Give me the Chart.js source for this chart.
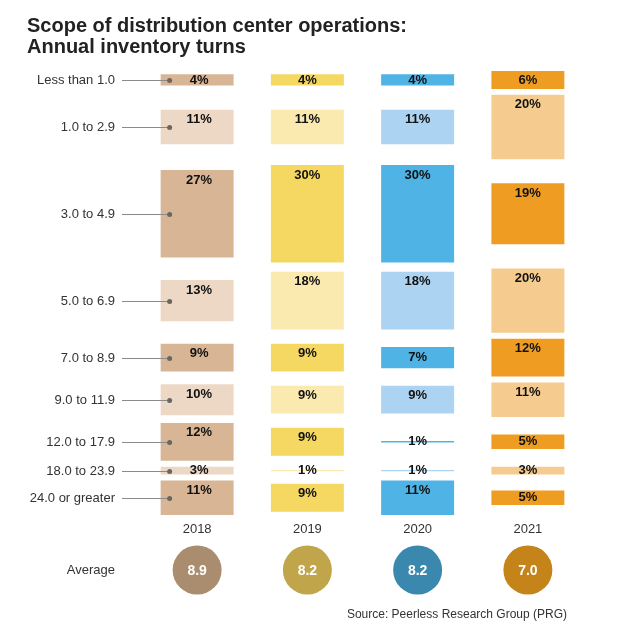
<!DOCTYPE html>
<html>
<head>
<meta charset="utf-8">
<script src="https://cdn.jsdelivr.net/npm/chart.js@4.4.1/dist/chart.umd.min.js"></script>
<style>
  html, body { margin: 0; padding: 0; background: #fff; }
  #wrap { width: 628px; height: 637px; position: relative; }
</style>
</head>
<body>
<div id="wrap"><canvas id="myChart"></canvas></div>
<script>
// data
const years = ['2018', '2019', '2020', '2021'];
const ranges = ['Less than 1.0', '1.0 to 2.9', '3.0 to 4.9', '5.0 to 6.9', '7.0 to 8.9',
  '9.0 to 11.9', '12.0 to 17.9', '18.0 to 23.9', '24.0 or greater'];
const share2018 = [4, 11, 27, 13, 9, 10, 12, 3, 11];
const share2019 = [4, 11, 30, 18, 9, 9, 9, 1, 9];
const share2020 = [4, 11, 30, 18, 7, 9, 1, 1, 11];
const share2021 = [6, 20, 19, 20, 12, 11, 5, 3, 5];
const averages = [8.9, 8.2, 8.2, 7.0];

// colours per year: dark / light rows, circle
const darkCol = ['#d8b595', '#f5d862', '#4fb3e5', '#ef9c22'];
const lightCol = ['#edd8c5', '#fbeab0', '#acd4f2', '#f6cb8f'];
const avgCol = ['#aa8c6e', '#c0a54b', '#3b88ae', '#c4841a'];

const GAP = 1.2; // space between rows, in % units
const allShares = [share2018, share2019, share2020, share2021];

// each row gets a slot as tall as its biggest value, bars sit centred in it
let rowCentres = [];
let pos = 0;
ranges.forEach(function (r, i) {
  let m = Math.max.apply(null, allShares.map(s => s[i]));
  rowCentres.push(pos + m / 2);
  pos += m + GAP;
});
const total = pos - GAP;

let datasets = ranges.map(function (r, i) {
  let c = rowCentres[i];
  return {
    label: r,
    data: allShares.map(s => [c - s[i] / 2, c + s[i] / 2]),
    backgroundColor: i % 2 === 0 ? darkCol : lightCol,
    borderColor: 'rgba(255,255,255,0.35)',
    borderWidth: 1,
    borderSkipped: false,
    grouped: false,
    barPercentage: 0.68,
    categoryPercentage: 1
  };
});

const FONT = '"Liberation Sans", Arial, Helvetica, sans-serif';

const extras = {
  id: 'extras',
  afterDraw: function (chart) {
    let ctx = chart.ctx;
    let xs = chart.scales.x;
    ctx.save();

    // title
    ctx.fillStyle = '#222';
    ctx.font = 'bold 20px ' + FONT;
    ctx.textAlign = 'left';
    ctx.textBaseline = 'alphabetic';
    ctx.fillText('Scope of distribution center operations:', 27, 32);
    ctx.fillText('Annual inventory turns', 27, 53);

    // value labels
    ctx.font = 'bold 13px ' + FONT;
    ctx.textAlign = 'center';
    ctx.textBaseline = 'middle';
    ctx.fillStyle = '#111';
    chart.data.datasets.forEach(function (ds, di) {
      chart.getDatasetMeta(di).data.forEach(function (bar, j) {
        let p = bar.getProps(['x', 'y', 'base'], true);
        let top = Math.min(p.y, p.base);
        let mid = (p.y + p.base) / 2;
        let v = allShares[j][di];
        ctx.fillText(v + '%', p.x + (j === 0 ? 2 : 0), Math.min(top + 11, mid));
      });
    });

    // row labels with leader lines to the 2018 bars
    let first = chart.getDatasetMeta(0).data[0].getProps(['x', 'width'], true);
    let dotX = first.x - first.width / 2 + 10;
    ctx.font = '13px ' + FONT;
    ctx.textAlign = 'right';
    chart.data.datasets.forEach(function (ds, di) {
      let p = chart.getDatasetMeta(di).data[0].getProps(['y', 'base'], true);
      let y = Math.round((p.y + p.base) / 2) + 0.5;
      ctx.fillStyle = '#333';
      ctx.fillText(ds.label, 115, y);
      ctx.strokeStyle = '#8a8a8a';
      ctx.lineWidth = 1;
      ctx.beginPath();
      ctx.moveTo(122, y);
      ctx.lineTo(dotX, y);
      ctx.stroke();
      ctx.fillStyle = '#6b6660';
      ctx.beginPath();
      ctx.arc(dotX, y, 2.5, 0, Math.PI * 2);
      ctx.fill();
    });

    // years
    ctx.textAlign = 'center';
    ctx.fillStyle = '#333';
    years.forEach(function (yr, i) {
      ctx.fillText(yr, xs.getPixelForValue(i), 529);
    });

    // averages
    ctx.textAlign = 'right';
    ctx.fillText('Average', 115, 570);
    ctx.textAlign = 'center';
    averages.forEach(function (a, i) {
      let x = xs.getPixelForValue(i);
      ctx.fillStyle = avgCol[i];
      ctx.beginPath();
      ctx.arc(x, 570, 24.5, 0, Math.PI * 2);
      ctx.fill();
      ctx.fillStyle = '#fff';
      ctx.font = 'bold 14px ' + FONT;
      ctx.fillText(a.toFixed(1), x, 571);
    });

    // source
    ctx.font = '12px ' + FONT;
    ctx.textAlign = 'right';
    ctx.fillStyle = '#333';
    ctx.fillText('Source: Peerless Research Group (PRG)', 567, 615);

    ctx.restore();
  }
};

let ctx = document.getElementById('myChart').getContext('2d');
let chart = new Chart(ctx, {
  type: 'bar',
  data: { labels: years, datasets: datasets },
  options: {
    responsive: true,
    maintainAspectRatio: false,
    animation: false,
    layout: { padding: { left: 142, right: 45, top: 70, bottom: 121 } },
    plugins: { legend: { display: false }, tooltip: { enabled: false } },
    scales: {
      x: { display: false },
      y: { display: false, reverse: true, min: 0, max: total }
    }
  },
  plugins: [extras]
});
</script>
</body>
</html>
